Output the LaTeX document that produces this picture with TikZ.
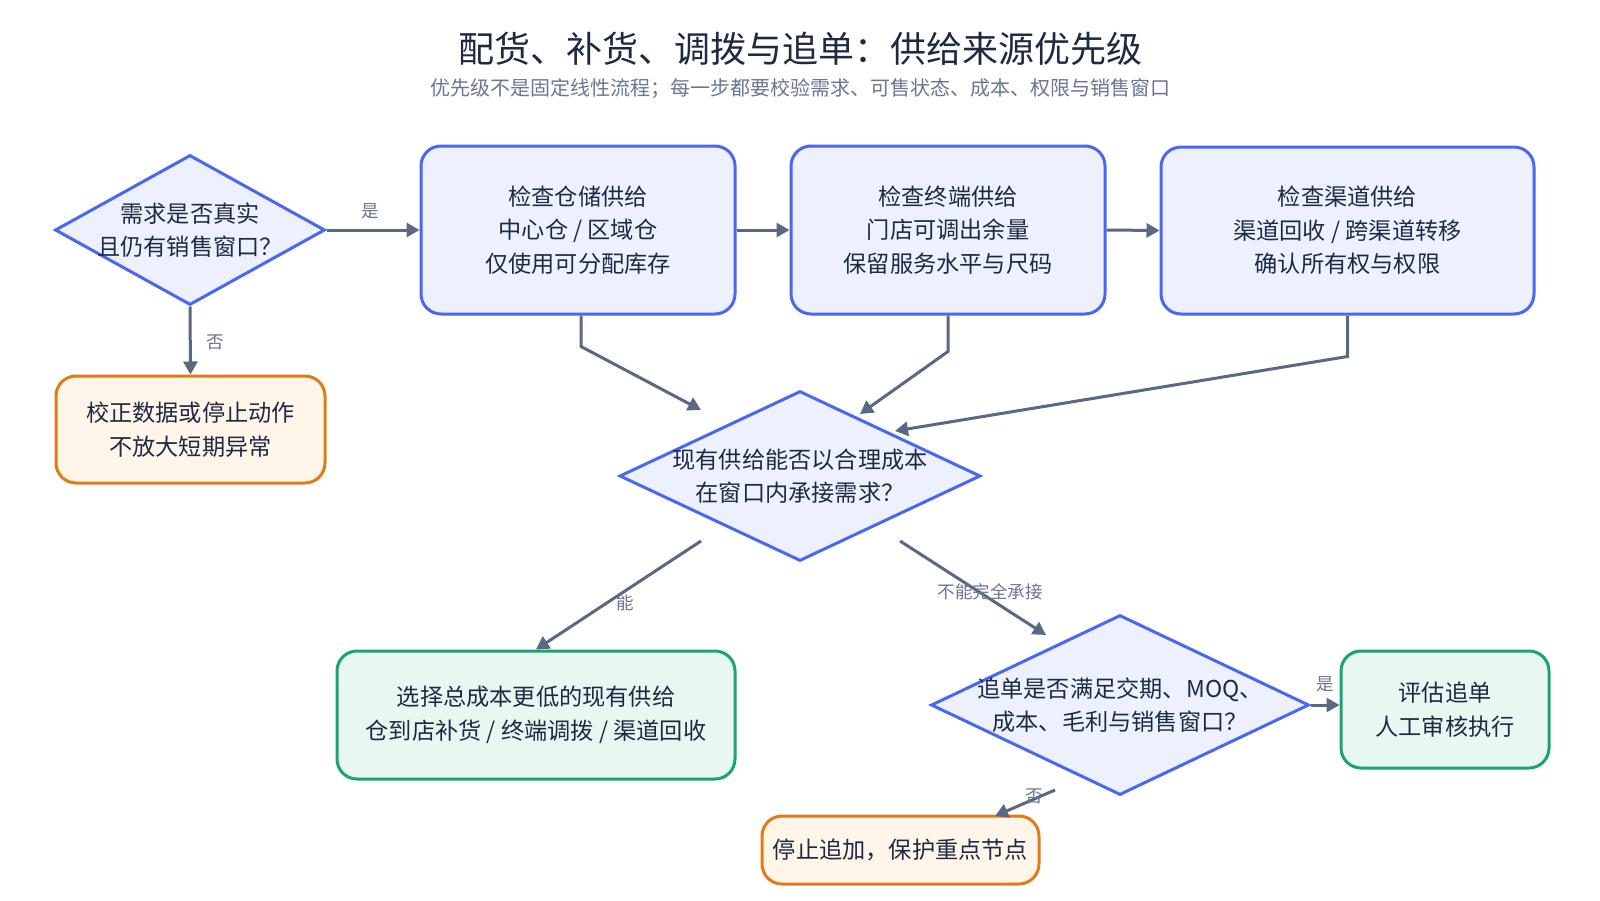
\documentclass[tikz,border=0pt]{standalone}
\usepackage{fontspec}
\setmainfont{Noto Sans CJK SC}
\usetikzlibrary{arrows.meta,shapes.geometric}
\definecolor{bluestroke}{HTML}{4A66F5}
\definecolor{bluefill}{HTML}{EDF1FE}
\definecolor{orstroke}{HTML}{E07B1A}
\definecolor{orfill}{HTML}{FFF5E8}
\definecolor{grstroke}{HTML}{1AA373}
\definecolor{grfill}{HTML}{E8F7F0}
\definecolor{ink}{HTML}{1E2A44}
\definecolor{edgec}{HTML}{5B6882}
\definecolor{lbl}{HTML}{6B7590}
\definecolor{subt}{HTML}{6A7694}
\begin{document}
\begin{tikzpicture}[x=1pt,y=-1pt,
  box/.style={rectangle, rounded corners=20pt, line width=3pt, align=center, text=ink,
    font=\fontsize{23.2}{33.5}\selectfont, inner sep=0pt},
  bluebox/.style={box, draw=bluestroke, fill=bluefill},
  orbox/.style={box, draw=orstroke, fill=orfill},
  grbox/.style={box, draw=grstroke, fill=grfill},
  dia/.style={diamond, draw=bluestroke, fill=bluefill, line width=3pt, inner sep=0pt},
  dtext/.style={align=center, text=ink, font=\fontsize{23.2}{33.5}\selectfont, inner sep=0pt},
  conn/.style={draw=edgec, line width=3pt, -{Triangle[length=13pt,width=14pt]}},
  lab/.style={text=lbl, font=\fontsize{17.5}{20}\selectfont, inner sep=0pt}]
\useasboundingbox (0,0) rectangle (1600,900);
\fill[white] (0,0) rectangle (1600,900);

\node[text=ink, font=\fontsize{36}{40}\selectfont] (title) at (800,49) {配货、补货、调拨与追单：供给来源优先级};
\node[text=subt, font=\fontsize{20}{22}\selectfont] (sub) at (800,89) {优先级不是固定线性流程；每一步都要校验需求、可售状态、成本、权限与销售窗口};

% decision 1
\node[dia, minimum width=270pt, minimum height=150pt] (d1) at (190,230) {};
\node[dtext] (d1t) at (d1.center) {需求是否真实\\且仍有销售窗口？};

\node[bluebox, minimum width=314pt, minimum height=168pt] (bA) at (578,230) {检查仓储供给\\中心仓 / 区域仓\\仅使用可分配库存};
\node[bluebox, minimum width=314pt, minimum height=168pt] (bB) at (948,230) {检查终端供给\\门店可调出余量\\保留服务水平与尺码};
\node[bluebox, minimum width=373pt, minimum height=167pt] (bC) at (1347.5,230.5) {检查渠道供给\\渠道回收 / 跨渠道转移\\确认所有权与权限};

\node[orbox, minimum width=269pt, minimum height=107pt] (o1) at (190.5,429.5) {校正数据或停止动作\\不放大短期异常};

% central decision
\node[dia, minimum width=361pt, minimum height=170pt] (d0) at (800,476) {};
\node[dtext] (d0t) at (d0.center) {现有供给能否以合理成本\\在窗口内承接需求？};

\node[grbox, minimum width=398pt, minimum height=128pt] (g1) at (536,715) {选择总成本更低的现有供给\\仓到店补货 / 终端调拨 / 渠道回收};

\node[dia, minimum width=378pt, minimum height=180pt] (d2) at (1120,705) {};
\node[dtext] (d2t) at (d2.center) {追单是否满足交期、MOQ、\\成本、毛利与销售窗口？};

\node[grbox, minimum width=208pt, minimum height=117pt] (g2) at (1445,709.5) {评估追单\\人工审核执行};
\node[orbox, minimum width=277pt, minimum height=68pt] (o2) at (900.5,850) {停止追加，保护重点节点};

% coordinates for free ends
\coordinate (tA) at (701,410);
\coordinate (tB) at (860,414);
\coordinate (tC) at (895,431);
\coordinate (s1) at (701,541);
\coordinate (s2) at (900,541);
\coordinate (t2) at (1046,635);
\coordinate (s3) at (1055,790);
\coordinate (t3) at (995,816);

% connectors
\draw[conn] (d1.east) -- (bA.west);
\node[lab] (l1) at (370,211) {是};
\draw[conn] (d1.south) -- (o1.north);
\node[lab] (l2) at (215,342) {否};
\draw[conn] (bA.east) -- (bB.west);
\draw[conn] (bB.east) -- (bC.west);
\draw[conn] (bA.south) ++(3,0) coordinate (bAs) (bAs) -- ++(0,31) -- (tA);
\draw[conn] (bB.south) -- ++(0,36) -- (tB);
\draw[conn] (bC.south) -- ++(0,41) -- (tC);
\draw[conn] (s1) -- (g1.north);
\node[lab] (l3) at (625,603) {能};
\draw[conn] (s2) -- (t2);
\node[lab] (l4) at (990,592) {不能完全承接};
\draw[conn] (d2.east) -- (d2.east -| g2.west);
\node[lab] (l5) at (1325,684) {是};
\draw[conn] (s3) -- (t3);
\node[lab] (l6) at (1034,796) {否};
\end{tikzpicture}
\end{document}
